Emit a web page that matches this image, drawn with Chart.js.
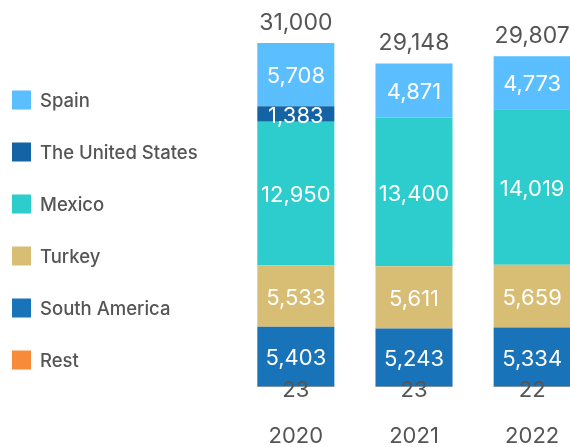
<!DOCTYPE html>
<html>
<head>
<meta charset="utf-8">
<style>
  html, body { margin: 0; padding: 0; overflow: hidden; background: #fff; }
  #wrap { width: 600px; height: 447px; }
</style>
<script src="https://cdn.jsdelivr.net/npm/chart.js@4"></script>
</head>
<body>
<div id="wrap"><canvas id="chart"></canvas></div>
<script>
// ================= DATA =================
const years = ["2020", "2021", "2022"];
const rest = [23, 23, 22];
const southAmerica = [5403, 5243, 5334];
const turkey = [5533, 5611, 5659];
const mexico = [12950, 13400, 14019];
const unitedStates = [1383, 0, 0];
const spain = [5708, 4871, 4773];
const totals = [31000, 29148, 29807];

const FONT = "Inter, 'Open Sans', sans-serif";
const GREY = "#555555";

// ================= PLUGINS =================
const valueLabels = {
    id: "valueLabels",
    afterDatasetsDraw(chart) {
        const ctx = chart.ctx;
        ctx.save();
        ctx.textAlign = "center";
        ctx.textBaseline = "middle";

        chart.data.datasets.forEach((ds, i) => {
            const meta = chart.getDatasetMeta(i);
            meta.data.forEach((bar, j) => {
                const v = ds.data[j];
                if (!v) return;
                const txt = v.toLocaleString("en-US");
                ctx.font = "22px " + FONT;
                if (ds.label === "Rest") {
                    ctx.fillStyle = GREY;
                    ctx.fillText(txt, bar.x, bar.base + 3);
                } else {
                    ctx.fillStyle = "#ffffff";
                    ctx.fillText(txt, bar.x, (bar.y + bar.base) / 2 + 2);
                }
            });
        });

        // totals on top
        const yScale = chart.scales.y;
        const xScale = chart.scales.x;
        ctx.fillStyle = GREY;
        ctx.font = "23px " + FONT;
        totals.forEach((t, j) => {
            ctx.fillText(t.toLocaleString("en-US"), xScale.getPixelForValue(j), yScale.getPixelForValue(t) - 20);
        });
        ctx.restore();
    }
};

const sideLegend = {
    id: "sideLegend",
    afterDraw(chart) {
        const ctx = chart.ctx;
        ctx.save();
        ctx.textBaseline = "middle";
        ctx.font = "500 18.5px " + FONT;
        const items = chart.data.datasets.slice().reverse();
        items.forEach((ds, i) => {
            const cy = 100 + i * 52;
            ctx.fillStyle = ds.backgroundColor;
            ctx.fillRect(12, cy - 9.5, 19, 19);
            ctx.fillStyle = GREY;
            ctx.fillText(ds.label, 40, cy + 1);
        });
        ctx.restore();
    }
};

// ================= CHART =================
new Chart(document.getElementById("chart"), {
    type: "bar",
    data: {
        labels: years,
        datasets: [
            { label: "Rest", data: rest, backgroundColor: "#F78B3A" },
            { label: "South America", data: southAmerica, backgroundColor: "#1973B8" },
            { label: "Turkey", data: turkey, backgroundColor: "#D8BE75" },
            { label: "Mexico", data: mexico, backgroundColor: "#2DCCCD" },
            { label: "The United States", data: unitedStates, backgroundColor: "#1464A5" },
            { label: "Spain", data: spain, backgroundColor: "#5BBEFF" }
        ]
    },
    options: {
        responsive: true,
        maintainAspectRatio: false,
        animation: false,
        layout: { padding: { top: 43, left: 236.75, right: 8.75, bottom: -38 } },
        datasets: { bar: { categoryPercentage: 1, barPercentage: 0.652, borderWidth: 0 } },
        plugins: {
            legend: { display: false },
            tooltip: { enabled: false }
        },
        scales: {
            x: {
                stacked: true,
                grid: { display: false, drawTicks: false },
                border: { display: false },
                ticks: {
                    color: GREY,
                    padding: 38,
                    font: { family: FONT, size: 22, lineHeight: 1 }
                }
            },
            y: {
                stacked: true,
                display: false,
                min: 0,
                max: 31000
            }
        }
    },
    plugins: [valueLabels, sideLegend]
});
</script>
</body>
</html>
